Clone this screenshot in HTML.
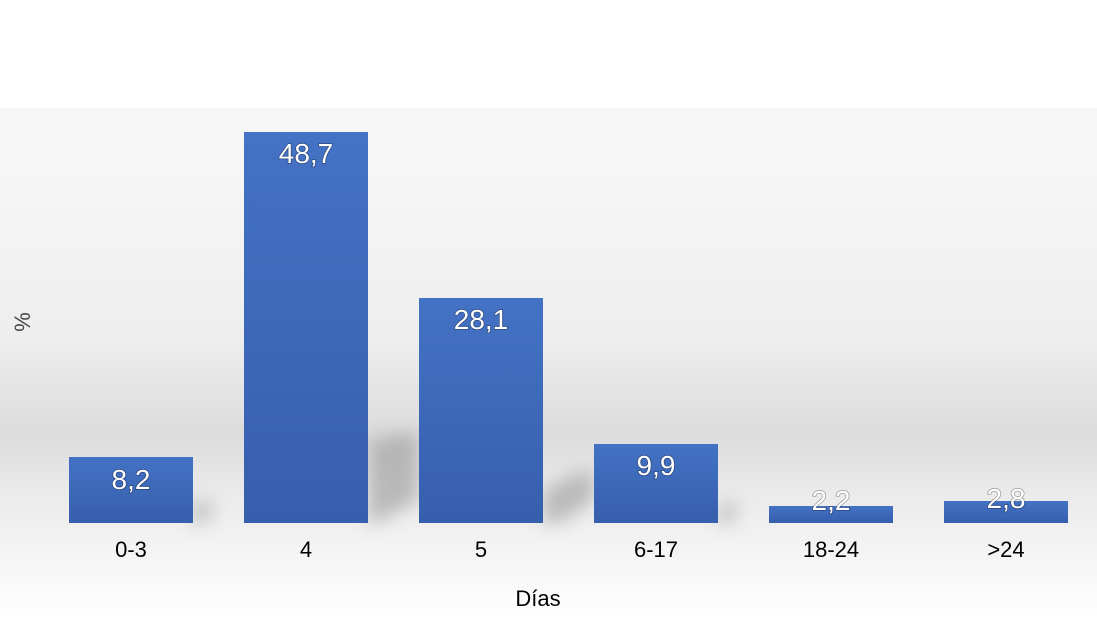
<!DOCTYPE html>
<html><head><style>
html,body{margin:0;padding:0;width:1097px;height:618px;overflow:hidden;background:#fff}
</style></head><body>
<svg width="1097" height="618" viewBox="0 0 1097 618" xmlns="http://www.w3.org/2000/svg" font-family="Liberation Sans, Arial, sans-serif">
<defs>
<linearGradient id="bg" x1="0" y1="0" x2="0" y2="1">
<stop offset="0" stop-color="#f7f7f7"/>
<stop offset="0.18" stop-color="#f5f5f5"/>
<stop offset="0.45" stop-color="#eeeeee"/>
<stop offset="0.64" stop-color="#dcdcdc"/>
<stop offset="0.75" stop-color="#eaeaea"/>
<stop offset="1" stop-color="#ffffff"/>
</linearGradient>
<linearGradient id="bar" x1="0" y1="0" x2="0" y2="1">
<stop offset="0" stop-color="#4472c4"/>
<stop offset="1" stop-color="#365fad"/>
</linearGradient>
<filter id="bl" filterUnits="userSpaceOnUse" x="0" y="300" width="1097" height="318"><feGaussianBlur stdDeviation="9"/></filter>
</defs>
<rect x="0" y="0" width="1097" height="618" fill="#fff"/>
<rect x="0" y="108" width="1097" height="510" fill="url(#bg)"/>
<g fill="#999" opacity="0.6" filter="url(#bl)">
<polygon points="193,500 215,505 205,523 193,523"/>
<polygon points="368,440 410,432 419,440 419,500 375,523 368,523"/>
<polygon points="543,490 585,470 594,475 594,500 560,523 543,523"/>
<polygon points="718,505 740,505 730,523 718,523"/>
</g>
<g fill="url(#bar)">
<rect x="69" y="457" width="124" height="66"/>
<rect x="244" y="132" width="124" height="391"/>
<rect x="419" y="298" width="124" height="225"/>
<rect x="594" y="444" width="124" height="79"/>
<rect x="769" y="506" width="124" height="17"/>
<rect x="944" y="501" width="124" height="22"/>
</g>
<g font-size="28" fill="#fff" text-anchor="middle" style="paint-order:stroke" stroke="rgba(0,0,0,0.35)" stroke-width="1.5">
<text x="131" y="489">8,2</text>
<text x="306" y="163">48,7</text>
<text x="481" y="329">28,1</text>
<text x="656" y="475">9,9</text>
<text x="831" y="510">2,2</text>
<text x="1006" y="508">2,8</text>
</g>
<g font-size="22" fill="#000" text-anchor="middle">
<text x="131" y="557">0-3</text>
<text x="306" y="557">4</text>
<text x="481" y="557">5</text>
<text x="656" y="557">6-17</text>
<text x="831" y="557">18-24</text>
<text x="1006" y="557">&gt;24</text>
<text x="538" y="606">Días</text>
</g>
<text x="0" y="0" font-size="22" fill="#444" text-anchor="middle" transform="translate(30,322) rotate(-90)">%</text>
</svg>
</body></html>
